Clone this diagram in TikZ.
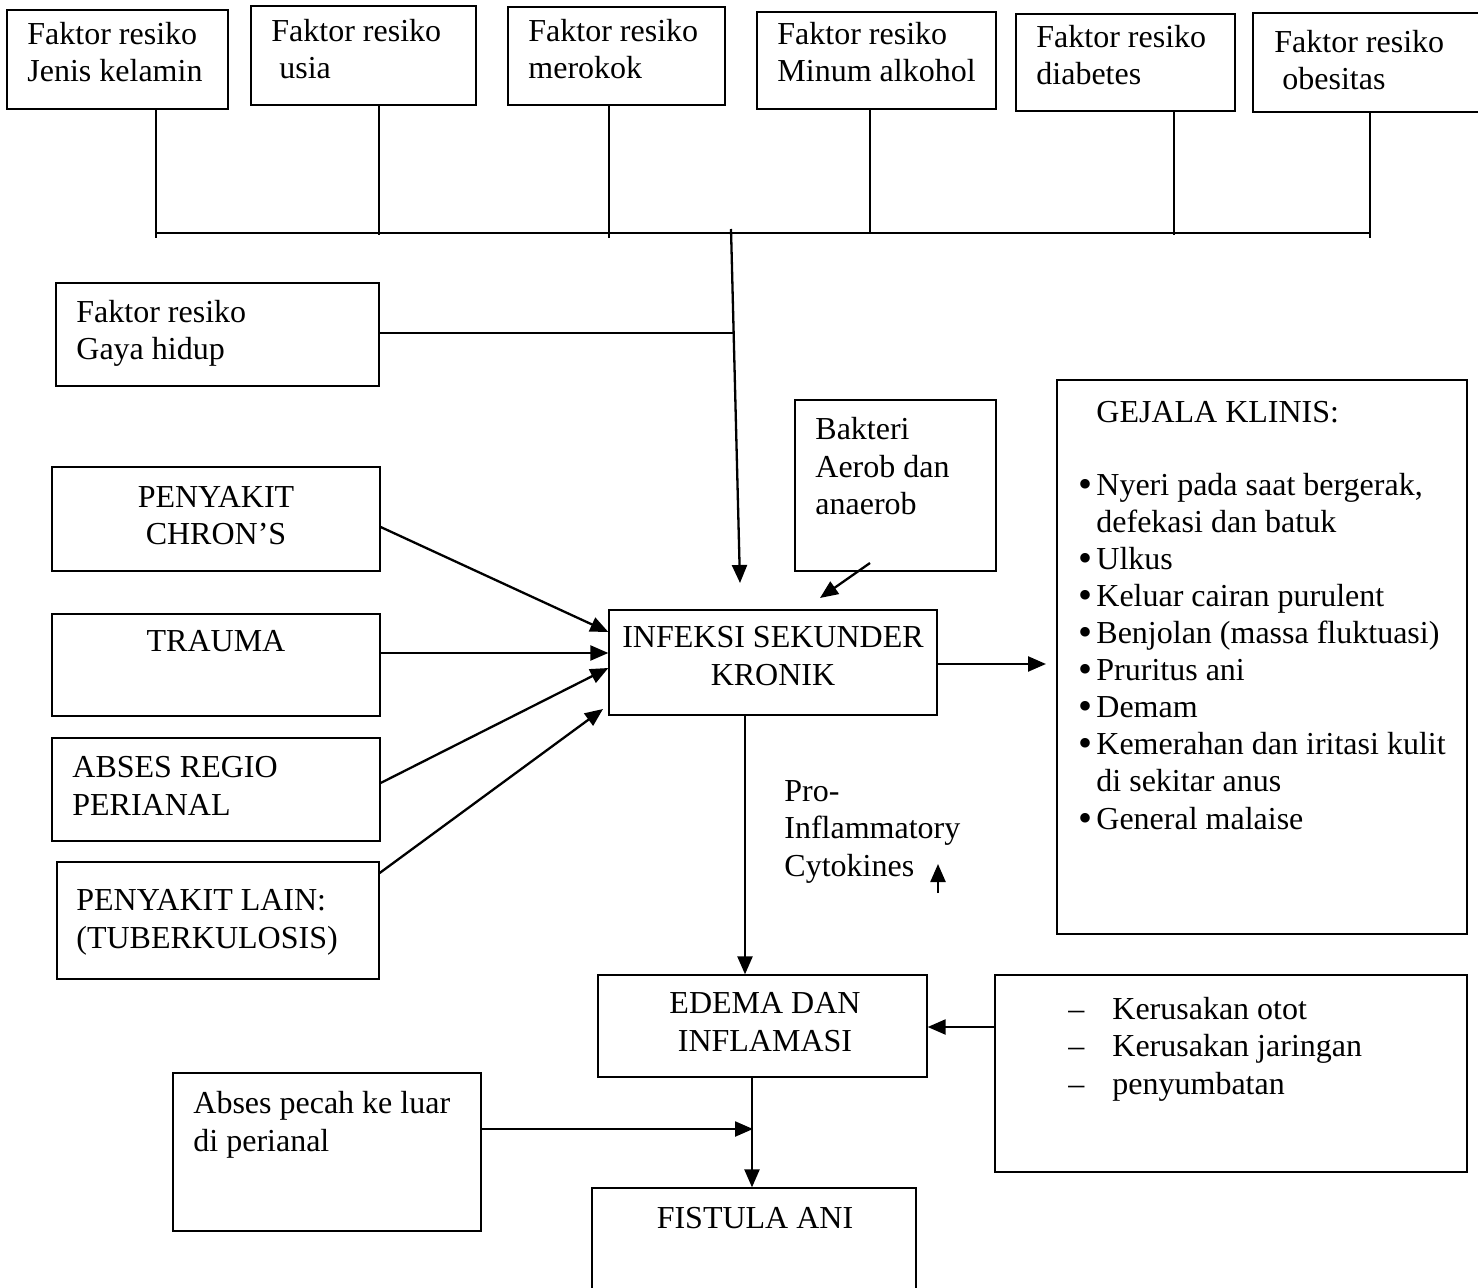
\documentclass[tikz,border=0pt]{standalone}
\usepackage{fontspec}
\setmainfont{Liberation Serif}
\usetikzlibrary{arrows.meta,fit}
\newcommand\mybul{\llap{\raisebox{-1pt}{\fontsize{20}{20}\selectfont •}\kern2pt}}
\newcommand\mydash{\llap{–\kern14pt}}
\begin{document}
\begin{tikzpicture}[x=0.5pt,y=-0.5pt,
  box/.style={draw, line width=0.65pt, inner sep=0pt, rectangle},
  txt/.style={inner sep=0pt, align=left, font=\fontsize{16}{18.75}\selectfont, anchor=base west},
  ctxt/.style={txt, align=center, anchor=base},
  ln/.style={line width=0.65pt},
  arr/.style={line width=1.15pt, -{Triangle[length=9pt,width=7.5pt]}},
]
\useasboundingbox[fill=white] (0,0) rectangle (1478,1288);

% ---- top risk factor boxes (text nodes placed by the baseline of their last line)
\node[box, fit={(7,10) (228,109)}] (f1) {};
\node[txt] (f1t) at (27,82) {Faktor resiko\\Jenis kelamin};
\node[box, fit={(251,6) (476,105)}] (f2) {};
\node[txt] (f2t) at (271,79) {Faktor resiko\\\hspace*{4pt}usia};
\node[box, fit={(508,7) (725,105)}] (f3) {};
\node[txt] (f3t) at (528,79) {Faktor resiko\\merokok};
\node[box, fit={(757,12) (996,109)}] (f4) {};
\node[txt] (f4t) at (777,82) {Faktor resiko\\Minum alkohol};
\node[box, fit={(1016,14) (1235,111)}] (f5) {};
\node[txt] (f5t) at (1036,85) {Faktor resiko\\diabetes};
\node[box, fit={(1253,13) (1495,112)}] (f6) {};
\node[txt] (f6t) at (1274,90) {Faktor resiko\\\hspace*{4pt}obesitas};

% ---- tree of connectors
\draw[ln] (f1.south -| 156,0) -- (156,238);
\draw[ln] (f2.south -| 379,0) -- (379,235);
\draw[ln] (f3.south -| 609,0) -- (609,238);
\draw[ln] (f4.south -| 870,0) -- (870,233);
\draw[ln] (f5.south -| 1174,0) -- (1174,235);
\draw[ln] (f6.south -| 1370,0) -- (1370,238);
\draw[ln] (156,233) -- (1370,233);

% ---- gaya hidup
\node[box, fit={(56,283) (379,386)}] (gh) {};
\node[txt] (ght) at (76,360) {Faktor resiko\\Gaya hidup};

% ---- central
\node[box, fit={(609,610) (937,715)}] (inf) {};
\node[ctxt] (inft) at (773,685) {INFEKSI SEKUNDER\\KRONIK};

\coordinate (jtop) at (731,229);
\coordinate (jin) at (740,583);
\coordinate (jgh) at (733.6,333);
\draw[arr] (jtop) -- (jin);
\draw[ln] (gh.east |- jgh) -- (jgh);

% ---- bakteri
\node[box, fit={(795,400) (996,571)}] (bak) {};
\node[txt] (bakt) at (815,515) {Bakteri\\Aerob dan\\anaerob};
\coordinate (bakfrom) at (870,563);
\coordinate (bakto) at (820,598);
\draw[arr] (bakfrom) -- (bakto);

% ---- left causes
\node[box, fit={(52,467) (380,571)}] (chr) {};
\node[ctxt] (chrt) at (216,545) {PENYAKIT\\CHRON’S};
\node[box, fit={(52,614) (380,716)}] (tra) {};
\node[ctxt] (trat) at (216,652) {TRAUMA};
\node[box, fit={(52,738) (380,841)}] (abs) {};
\node[txt] (abst) at (72,815) {ABSES REGIO\\PERIANAL};
\node[box, fit={(57,862) (379,979)}] (lain) {};
\node[txt] (laint) at (76,948) {PENYAKIT LAIN:\\(TUBERKULOSIS)};

\draw[arr] (chr.east |- 0,527) -- (inf.west |- 0,632);
\draw[arr] (tra.east |- 0,653) -- (inf.west |- 0,653);
\draw[arr] (abs.east |- 0,783) -- (inf.west |- 0,668);
\draw[arr] (lain.east |- 0,873) -- (603,709);

% ---- gejala klinis
\node[box, fit={(1057,380) (1467,934)}] (gej) {};
\node[txt] (gejt) at (1096,423) {GEJALA KLINIS:};
\node[txt, font=\fontsize{16}{18.55}\selectfont] (gejl) at (1096,829) {\mybul Nyeri pada saat bergerak,\\
defekasi dan batuk\\
\mybul Ulkus\\
\mybul Keluar cairan purulent\\
\mybul Benjolan (massa fluktuasi)\\
\mybul Pruritus ani\\
\mybul Demam\\
\mybul Kemerahan dan iritasi kulit\\
di sekitar anus\\
\mybul General malaise};
\coordinate (gejin) at (1046,664);
\draw[arr] (inf.east |- gejin) -- (gejin);

% ---- cytokines
\node[txt] (cyt) at (784,876) {Pro-\\Inflammatory\\Cytokines};
\coordinate (upa) at (938,893);
\coordinate (upb) at (938,864);
\draw[arr] (upa) -- (upb);

% ---- edema
\node[box, fit={(598,975) (927,1077)}] (ed) {};
\node[ctxt] (edt) at (765,1051) {EDEMA DAN\\INFLAMASI};
\draw[arr] (inf.south -| 745,0) -- (ed.north -| 745,0);

\node[box, fit={(995,975) (1467,1172)}] (dmg) {};
\node[txt] (dmgt) at (1112,1094) {\mydash Kerusakan otot\\
\mydash Kerusakan jaringan\\
\mydash penyumbatan};
\draw[arr] (dmg.west |- 0,1027) -- (ed.east |- 0,1027);

% ---- fistula
\node[box, fit={(592,1188) (916,1300)}] (fis) {};
\node[ctxt] (fist) at (755,1228) {FISTULA ANI};
\draw[arr] (ed.south -| 752,0) -- (fis.north -| 752,0);

\node[box, fit={(173,1073) (481,1231)}] (pec) {};
\node[txt] (pect) at (193,1151) {Abses pecah ke luar\\di perianal};
\coordinate (pecto) at (753,1129);
\draw[arr] (pec.east |- pecto) -- (pecto);
\end{tikzpicture}
\end{document}
